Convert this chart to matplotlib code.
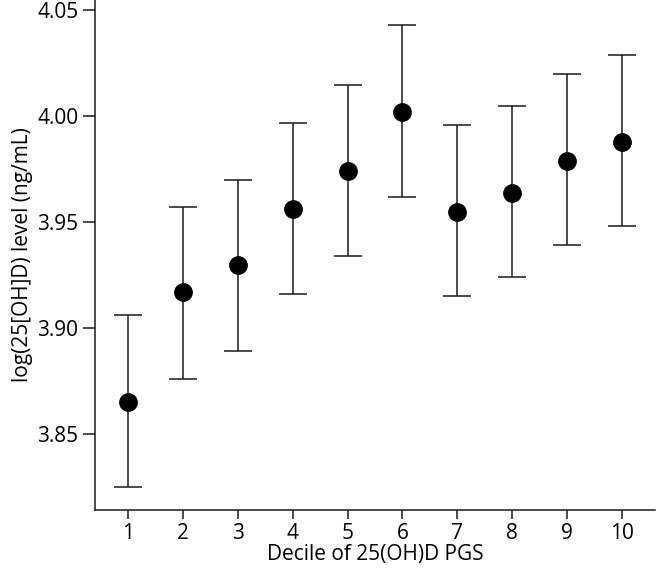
import matplotlib
matplotlib.use("Agg")
import matplotlib.pyplot as plt

plt.rcParams['font.family'] = ['Open Sans', 'DejaVu Sans']

# data
deciles = [1, 2, 3, 4, 5, 6, 7, 8, 9, 10]
means = [3.865, 3.917, 3.930, 3.956, 3.974, 4.002, 3.955, 3.964, 3.979, 3.988]
lower = [3.825, 3.876, 3.889, 3.916, 3.934, 3.962, 3.915, 3.924, 3.939, 3.948]
upper = [3.906, 3.957, 3.970, 3.997, 4.015, 4.043, 3.996, 4.005, 4.020, 4.029]
yticks = [3.85, 3.90, 3.95, 4.00, 4.05]

err_lo = [m - l for m, l in zip(means, lower)]
err_hi = [u - m for m, u in zip(means, upper)]

fig = plt.figure(figsize=(6.58, 5.69), dpi=100)
ax = fig.add_axes([0.1444, 0.1037, 0.851, 0.8963])

ax.errorbar(deciles, means, yerr=[err_lo, err_hi], fmt='o', color='black',
            ecolor='#1a1a1a', elinewidth=1.1, capsize=10, capthick=1.1,
            markersize=12.5)

ax.set_xlim(0.405, 10.595)
ax.set_ylim(3.8141, 4.0549)
ax.set_xticks(deciles)
ax.set_yticks(yticks)
ax.set_yticklabels([f"{t:.2f}" for t in yticks])

for s in ['top', 'right']:
    ax.spines[s].set_visible(False)
for s in ['left', 'bottom']:
    ax.spines[s].set_linewidth(1.1)
    ax.spines[s].set_color('#1a1a1a')
ax.tick_params(labelsize=15, width=1.1, color='#1a1a1a')
ax.tick_params(axis='x', length=6.5, pad=3)
ax.tick_params(axis='y', length=8.5, pad=3.5)

ax.set_xlabel("Decile of 25(OH)D PGS", fontsize=15, labelpad=0)
ax.set_ylabel("log(25[OH]D) level (ng/mL)", fontsize=15, labelpad=3)

fig.savefig("out.png", dpi=100)
